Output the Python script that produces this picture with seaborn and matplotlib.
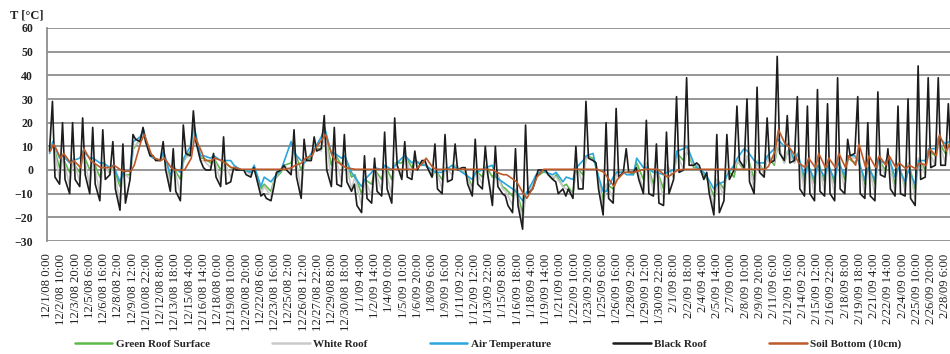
import numpy as np
import pandas as pd
import matplotlib
matplotlib.use("Agg")
import matplotlib.pyplot as plt
import matplotlib.dates as mdates
import seaborn as sns

start = pd.Timestamp("2008-12-01 00:00")
n_days = 90

# Daily readings (degC), one value per day from 12/1/08 to 2/28/09
black_am = [8, -6, -10, -7, -10, -13, -2, -17, -4, 12,
            6, 4, -9, -13, 6, 4, 0, -7, -5, 0,
            -3, -11, -13, 0, -2, -12, 4, 9, -7, -7,
            -9, -18, -14, -11, -14, -4, -4, 4, -3, -10,
            -4, 1, -11, -8, -15, -10, -18, -25, -8, 0,
            -4, -8, -12, -8, 4, -19, -14, -1, -1, -10,
            -11, -15, -4, 0, 2, -4, -19, -13, 0, 1,
            -10, -3, 4, 4, 4, -11, -13, -11, -13, -10,
            7, -12, -13, -3, -11, -11, -15, -3, 2, 2]
black_pk = [29, 20, 20, 22, 18, 17, 12, 11, 15, 18,
            6, 12, 9, 19, 25, 1, 7, 14, 1, 0,
            1, -10, -7, 2, 17, 13, 14, 23, 18, 15,
            -6, 6, 5, 16, 22, 12, 8, 4, 11, 15,
            11, 1, 13, 10, 10, -11, 9, 19, -4, 0,
            -5, -11, 10, 29, 3, 20, 26, 9, 1, 21,
            11, 16, 31, 39, 3, -1, 15, 15, 27, 30,
            35, 22, 48, 23, 31, 27, 34, 28, 39, 13,
            31, 20, 33, 9, 27, 30, 44, 39, 39, 28]
black_pm = [-3, -4, -4, -2, -6, -4, -8, -14, 13, 12,
            4, 0, -9, 7, 12, 0, -3, -6, 0, -2,
            -3, -12, -1, 0, -3, 4, 8, 0, -6, -5,
            -15, -12, -9, -8, 2, -3, 0, 1, -8, -5,
            0, -6, -6, -2, -7, -15, -15, -10, 0, -2,
            -10, -8, -8, 5, -8, -12, -3, -1, -4, -10,
            -14, -10, -1, 2, 2, -10, -18, -4, 4, -5,
            -1, 3, 7, 3, -8, -10, -9, -10, -8, 6,
            -10, -11, -2, -8, -10, -12, -4, 1, 2, 5]

air_am = [7, 5, 3, 5, 5, 3, 1, -5, 0, 14,
          6, 4, -2, -1, 10, 6, 5, 4, 4, 0,
          -1, -7, -5, 0, 12, 4, 7, 14, 7, 5,
          -1, -7, -1, 0, 0, 5, 3, 2, 0, -1,
          2, -1, -4, 0, 2, -5, -8, -13, -5, 0,
          -2, -5, -4, 4, 7, -9, -3, -1, -2, 1,
          -1, -2, 0, 9, 3, -1, -8, -5, 2, 9,
          4, 3, 9, 10, 4, -3, -4, -3, -4, -2,
          6, -4, -4, 3, -3, -5, -6, 4, 9, 11]
air_pk = [12, 6, 4, 8, 5, 3, 2, -1, 12, 17,
          5, 8, 1, 5, 19, 6, 6, 4, 2, 0,
          2, -3, -3, 4, 7, 3, 9, 18, 7, 6,
          -3, -4, 1, 2, 2, 6, 4, 2, -1, 0,
          1, -2, -1, 1, -3, -6, -9, -10, -2, -1,
          -1, -3, 1, 6, 0, -9, -1, -2, 5, 1,
          -1, -1, 8, 10, 1, -3, -6, -2, 5, 8,
          3, 6, 13, 11, 7, 2, 2, 2, 3, 6,
          4, 1, 4, 6, 1, 0, 4, 9, 14, 12]

green_am = [9, 1, -1, -1, 0, -3, -1, -7, -2, 13,
            6, 4, -4, -4, 8, 5, 3, 0, 1, 0,
            -1, -8, -9, -1, 3, 0, 5, 9, 2, 2,
            -3, -10, -6, -4, -4, 3, 1, 2, -3, -4,
            0, -1, -7, -3, -3, -7, -11, -18, -7, -1,
            -4, -7, -10, -2, 5, -13, -8, -1, -2, -4,
            -6, -8, -3, 4, 1, -2, -11, -8, -3, 0,
            -4, -1, 2, 3, 3, -6, -6, -5, -6, -4,
            3, -6, -6, 0, -6, -7, -8, 0, 6, 7]
green_pk = [11, 5, 3, 7, 4, 2, 1, -2, 9, 16,
            5, 7, 1, 4, 17, 5, 5, 4, 1, 0,
            1, -6, -4, 2, 8, 4, 9, 16, 7, 6,
            -2, -4, 0, 2, 3, 6, 4, 3, 0, 1,
            2, -1, 0, 2, 0, -8, -8, -10, -3, -1,
            -2, -6, 1, 6, 1, -6, 0, 0, 3, 3,
            0, 2, 7, 8, 1, -4, -4, 0, 4, 6,
            4, 6, 10, 8, 7, 3, 4, 3, 5, 5,
            5, 3, 5, 5, 3, 3, 5, 8, 12, 11]

white_am = [8, -4, -7, -5, -7, -10, -2, -14, -4, 12,
            6, 4, -7, -10, 6, 4, 1, -5, -3, 0,
            -2, -10, -11, 0, -1, -9, 4, 8, -4, -5,
            -8, -15, -11, -9, -11, -2, -3, 3, -2, -8,
            -2, 0, -9, -6, -12, -8, -15, -22, -7, 0,
            -3, -7, -10, -6, 4, -16, -12, -1, -1, -8,
            -9, -12, -3, 0, 2, -3, -16, -11, 0, 1,
            -8, -2, 3, 3, 3, -9, -10, -9, -10, -8,
            5, -10, -10, -2, -9, -9, -12, -2, 2, 3]
white_pk = [12, 6, 5, 8, 5, 3, 2, -1, 10, 16,
            5, 8, 2, 5, 18, 4, 5, 4, 1, 0,
            1, -7, -4, 2, 9, 4, 9, 17, 7, 6,
            -3, -4, 0, 2, 3, 6, 4, 3, 1, 1,
            2, -1, 0, 2, 0, -9, -8, -10, -3, -1,
            -3, -8, 2, 6, 2, -6, 0, 0, 1, 3,
            0, 2, 7, 9, 2, -3, -4, 0, 4, 6,
            4, 6, 11, 8, 7, 3, 4, 3, 5, 5,
            5, 3, 5, 5, 3, 3, 5, 8, 12, 11]

soil_am = [8, 5, 3, 1, 4, 1, 1, 0, -0.5, 12,
           7, 4, 1, 0, 5, 8, 4, 4, 1, 0.3,
           0.3, 0.3, 0.3, 0.3, 1, 3, 6, 13, 6, 2,
           0.5, 0.3, 0.3, 0.3, 0.3, 0.3, 0.3, 3, 1, 0.3,
           0.3, 0.3, 0.3, 0.3, 0, -2, -4, -10, -7, 0.3,
           0.3, 0.3, 0.3, 0.3, 0.3, -1, -7, -1, -1, 0.3,
           0.3, -2, -1, 0.3, 0.3, 0.3, 0.3, 0.3, 0.3, 0.3,
           0.3, 0.3, 8, 11, 6, 1, 1, 1, 1, 1,
           2, 1, 1, 2, 1, 0.5, 0.5, 2, 6, 8]
soil_pk = [11, 7, 4, 9, 3, 1, 2, -0.5, 2, 15,
           5, 5, 0, 0, 14, 4, 5, 3, 1, 0.3,
           0.3, 0.3, 0.3, 0.3, 2, 5, 9, 15, 4, 1,
           0.3, 0.3, 0.3, 0.3, 0.3, 0.3, 0.3, 5, 0.3, 0.3,
           0.3, 0.3, 0.3, 0.3, -1, -2, -5, -12, -3, 0.3,
           0.3, 0.3, 0.3, 0.3, 0.3, -3, -4, -1, -0.5, 0.3,
           0.3, -3, 0, 0.3, 0.3, 0.3, 0.3, 0.3, 0.3, 0.3,
           0.3, 1.5, 17, 10, 3, 5, 7, 5, 7, 6,
           11, 6, 6, 6, 3, 2, 3, 9, 15, 11]

series_order = ["Green Roof Surface", "White Roof", "Air Temperature",
                "Black Roof", "Soil Bottom (10cm)"]
series_colors = ["#5fb84c", "#c9c9c9", "#2ba6dc", "#1c1c1c", "#bd5a2a"]

# Readings per series: (hour of day, daily values)
readings = {
    "Green Roof Surface": [(6, green_am), (14, green_pk)],
    "White Roof": [(6, white_am), (14, white_pk)],
    "Air Temperature": [(6, air_am), (14, air_pk)],
    "Black Roof": [(6, black_am), (13, black_pk), (19, black_pm)],
    "Soil Bottom (10cm)": [(8, soil_am), (16, soil_pk)],
}

frames = []
for name, parts in readings.items():
    for hour, vals in parts:
        t = start + pd.to_timedelta(np.arange(n_days) * 24 + hour, unit="h")
        frames.append(pd.DataFrame({"time": t, "temp": vals, "series": name}))
df = pd.concat(frames, ignore_index=True).sort_values("time")

sns.set_style("white")
plt.rcParams["font.family"] = ["Liberation Serif", "DejaVu Serif"]

fig = plt.figure(figsize=(9.5, 3.54), dpi=100)
ax = fig.add_axes([47 / 950, 113 / 354, 903 / 950, 213 / 354])

sns.lineplot(data=df, x="time", y="temp", hue="series", hue_order=series_order,
             palette=series_colors, estimator=None, sort=True, linewidth=1.2, ax=ax)

# axes styling
ax.set_ylim(-30, 60)
ax.set_yticks(range(-30, 61, 10))
ax.yaxis.grid(True, color="#8d8d8d", linewidth=1.3)
ax.xaxis.grid(False)
ax.set_axisbelow(True)
for s in ["top", "right", "bottom"]:
    ax.spines[s].set_visible(False)
ax.spines["left"].set_color("#8d8d8d")
ax.spines["left"].set_linewidth(1.3)

tick_times = pd.date_range(start, periods=64, freq="34h")
tick_labels = [f"{t.month}/{t.day}/{t:%y} {t.hour}:{t:%M}" for t in tick_times]
ax.set_xticks(mdates.date2num(tick_times.to_pydatetime()))
ax.set_xticklabels(tick_labels, rotation=90, fontsize=9.2, color="#222222")
ax.set_xlim(mdates.date2num(start.to_pydatetime()),
            mdates.date2num((start + pd.Timedelta(hours=2153)).to_pydatetime()))
ax.tick_params(axis="x", length=0, pad=9)
ax.tick_params(axis="y", length=4, color="#8d8d8d", width=1.2, pad=6,
               labelsize=8.5, labelcolor="#222222")
for lab in ax.get_yticklabels():
    lab.set_fontweight("bold")
ax.set_xlabel("")
ax.set_ylabel("")

fig.text(10 / 950, 1 - 15 / 354, "T [°C]", fontsize=9, fontweight="bold",
         ha="left", va="center", color="#222222")

handles, labels = ax.get_legend_handles_labels()
if ax.get_legend() is not None:
    ax.get_legend().remove()
leg = fig.legend(handles, labels, loc="center", bbox_to_anchor=(488 / 950, 1 - 344 / 354),
                 ncol=5, frameon=False, handlelength=3.4, columnspacing=5.6,
                 handletextpad=0.3, prop={"weight": "bold", "size": 8})
for line in leg.get_lines():
    line.set_linewidth(1.8)

fig.savefig("out.png", dpi=100)
